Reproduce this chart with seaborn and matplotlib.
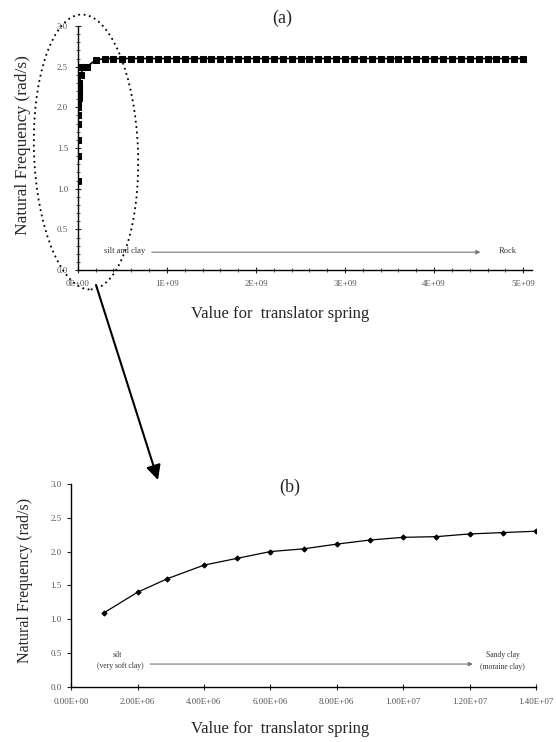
import matplotlib
matplotlib.use("Agg")
import matplotlib.pyplot as plt
import matplotlib.ticker as mticker
from matplotlib.patches import Ellipse
from matplotlib.transforms import IdentityTransform
import seaborn as sns
import numpy as np
import pandas as pd

# data (b): soft soils, spring value vs natural frequency
b_spring = [1.0e6, 2.0e6, 2.9e6, 4.0e6, 5.0e6, 6.0e6, 7.0e6,
            8.0e6, 9.0e6, 1.0e7, 1.1e7, 1.2e7, 1.3e7, 1.4e7]
b_freq = [1.10, 1.40, 1.60, 1.80, 1.90, 2.00, 2.04,
          2.11, 2.17, 2.21, 2.22, 2.26, 2.28, 2.30]

# data (a): whole range up to rock
a_extra_spring = [4.0e7, 5.0e7, 7.0e7, 1.0e8, 2.0e8,
                  3.0e8, 4.0e8, 5.0e8, 6.0e8, 7.0e8, 8.0e8, 9.0e8, 1.0e9,
                  1.1e9, 1.2e9, 1.3e9, 1.4e9, 1.5e9, 1.6e9, 1.7e9, 1.8e9, 1.9e9, 2.0e9,
                  2.1e9, 2.2e9, 2.3e9, 2.4e9, 2.5e9, 2.6e9, 2.7e9, 2.8e9, 2.9e9, 3.0e9,
                  3.1e9, 3.2e9, 3.3e9, 3.4e9, 3.5e9, 3.6e9, 3.7e9, 3.8e9, 3.9e9, 4.0e9,
                  4.1e9, 4.2e9, 4.3e9, 4.4e9, 4.5e9, 4.6e9, 4.7e9, 4.8e9, 4.9e9, 5.0e9]
a_extra_freq = [2.40, 2.50, 2.50, 2.50, 2.58,
                2.60, 2.60, 2.60, 2.60, 2.60, 2.60, 2.60, 2.60,
                2.60, 2.60, 2.60, 2.60, 2.60, 2.60, 2.60, 2.60, 2.60, 2.60,
                2.60, 2.60, 2.60, 2.60, 2.60, 2.60, 2.60, 2.60, 2.60, 2.60,
                2.60, 2.60, 2.60, 2.60, 2.60, 2.60, 2.60, 2.60, 2.60, 2.60,
                2.60, 2.60, 2.60, 2.60, 2.60, 2.60, 2.60, 2.60, 2.60, 2.60]
a_spring = b_spring + a_extra_spring
a_freq = b_freq + a_extra_freq

sns.set_theme(style="ticks")
plt.rcParams['font.family'] = ['Liberation Serif', 'DejaVu Serif']

fig = plt.figure(figsize=(5.56, 7.42), dpi=100)
ax_a = fig.add_axes([0.140, 0.636, 0.817, 0.329])
ax_b = fig.add_axes([0.128, 0.074, 0.836, 0.274])

tick_grey = '#555555'

# ---- (a)
sns.lineplot(x=a_spring, y=a_freq, ax=ax_a, color='black', linewidth=1.2,
             marker='s', markersize=4.3, markeredgecolor='black')
ax_a.set_xlim(0, 5.1e9)
ax_a.set_ylim(0, 3.0)
ax_a.xaxis.set_major_locator(mticker.MultipleLocator(1e9))
ax_a.xaxis.set_minor_locator(mticker.MultipleLocator(2e8))
ax_a.yaxis.set_major_locator(mticker.MultipleLocator(0.5))
ax_a.yaxis.set_minor_locator(mticker.MultipleLocator(0.1))
ax_a.xaxis.set_major_formatter(mticker.FuncFormatter(lambda v, p: f"{v:.0E}"))
ax_a.yaxis.set_major_formatter(mticker.FormatStrFormatter('%.1f'))
ax_a.tick_params(which='major', direction='inout', length=4, width=0.8,
                 labelsize=6.3, labelcolor=tick_grey, pad=5)
ax_a.tick_params(which='minor', direction='inout', length=3, width=0.6)
ax_a.set_ylabel('Natural Frequency (rad/s)', fontsize=12.5, va='center')
ax_a.yaxis.set_label_coords(-0.12, 0.512)
ax_a.set_xlabel('Value for  translator spring', fontsize=12)
ax_a.xaxis.set_label_coords(0.445, -0.18)
ax_a.xaxis.label.set_va('center')
ax_a.annotate('', xy=(4.52e9, 0.22), xytext=(0.83e9, 0.22),
              arrowprops=dict(arrowstyle='-|>', color='#777777', lw=0.8,
                              mutation_scale=6, shrinkA=0, shrinkB=0))
ax_a.text(0.53e9, 0.24, 'silt and clay', fontsize=6, ha='center', va='center', color='#333333')
ax_a.text(4.83e9, 0.24, 'Rock', fontsize=6, ha='center', va='center', color='#333333')

# ---- (b)
sns.lineplot(x=b_spring, y=b_freq, ax=ax_b, color='black', linewidth=0.9,
             marker='D', markersize=2.6, markeredgecolor='black')
ax_b.set_xlim(0, 1.4e7)
ax_b.set_ylim(0, 3.0)
ax_b.xaxis.set_major_locator(mticker.MultipleLocator(2e6))
ax_b.yaxis.set_major_locator(mticker.MultipleLocator(0.5))
ax_b.xaxis.set_major_formatter(mticker.FuncFormatter(lambda v, p: f"{v:.2E}"))
ax_b.yaxis.set_major_formatter(mticker.FormatStrFormatter('%.1f'))
ax_b.tick_params(axis='x', direction='inout', length=4, width=0.8,
                 labelsize=6.5, labelcolor=tick_grey, pad=6)
ax_b.tick_params(axis='y', direction='out', length=3, width=0.8,
                 labelsize=6.5, labelcolor=tick_grey, pad=4)
ax_b.set_ylabel('Natural Frequency (rad/s)', fontsize=11.5, va='center')
ax_b.yaxis.set_label_coords(-0.099, 0.527)
ax_b.set_xlabel('Value for  translator spring', fontsize=12)
ax_b.xaxis.set_label_coords(0.449, -0.205)
ax_b.xaxis.label.set_va('center')
ax_b.annotate('', xy=(12.1e6, 0.34), xytext=(2.38e6, 0.34),
              arrowprops=dict(arrowstyle='-|>', color='#777777', lw=0.8,
                              mutation_scale=6, shrinkA=0, shrinkB=0))
ax_b.text(1.39e6, 0.47, 'silt', fontsize=5.5, ha='center', va='center', color='#333333')
ax_b.text(1.48e6, 0.31, '(very soft clay)', fontsize=5.5, ha='center', va='center', color='#333333')
ax_b.text(13.0e6, 0.47, 'Sandy clay', fontsize=5.5, ha='center', va='center', color='#333333')
ax_b.text(13.0e6, 0.30, '(moraine clay)', fontsize=5.5, ha='center', va='center', color='#333333')

for ax in (ax_a, ax_b):
    sns.despine(ax=ax)
    ax.spines['left'].set_color('black')
    ax.spines['bottom'].set_color('black')
    ax.spines['left'].set_linewidth(1.0)
    ax.spines['bottom'].set_linewidth(1.0)

# panel titles
fig.text(282 / 556, 1 - 18 / 742, '(a)', fontsize=13, ha='center', va='center')
fig.text(290 / 556, 1 - 487 / 742, '(b)', fontsize=13, ha='center', va='center')

# dotted ellipse around the steep part of (a), in pixels
ell = Ellipse((86, 742 - 152), 104, 275, angle=2, fill=False, linestyle=(0, (1, 2)),
              linewidth=1.3, edgecolor='black', transform=IdentityTransform())
fig.patches.append(ell)

# arrow from (a) to (b)
fig.add_artist(matplotlib.patches.FancyArrowPatch(
    (96, 742 - 285), (158, 742 - 480), transform=IdentityTransform(),
    arrowstyle='-|>', mutation_scale=22, linewidth=1.5, color='black',
    shrinkA=0, shrinkB=0))

fig.savefig('out.png', dpi=100)
